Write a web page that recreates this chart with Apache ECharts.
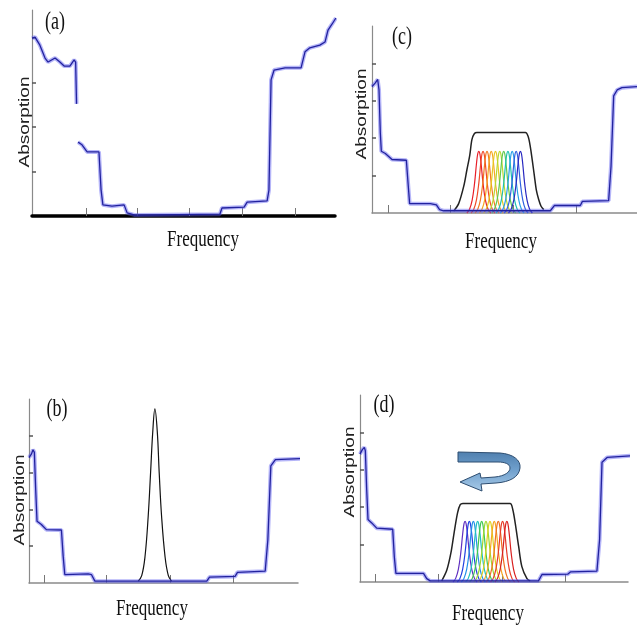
<!DOCTYPE html>
<html><head><meta charset="utf-8">
<script src="https://cdn.jsdelivr.net/npm/echarts@6/dist/echarts.min.js"></script>
<style>html,body{margin:0;padding:0;background:#fff}#c{width:637px;height:628px}</style>
</head><body><div id="c"></div>
<script>
// ---- data (frequency 0-100 across each panel axis, absorption in tick units) ----
const spectrumA = [[0,4.0],[1.0,4.02],[2.6,3.84],[4.3,3.55],[5.3,3.46],[7.6,3.55],[9.2,3.46],[10.6,3.37],[12.5,3.37],[13.9,3.51],[14.4,3.46],[14.7,2.52],null,
  [15.2,1.66],[16.5,1.60],[18.2,1.44],[22.1,1.44],[22.8,0.58],[23.4,0.25],[26.4,0.22],[30.4,0.25],[31.4,0.07],[34.0,0.02],[62.0,0.04],[62.7,0.18],
  [70.0,0.2],[71.0,0.31],[77.6,0.34],[78.2,0.58],[78.9,3.06],[79.9,3.28],[83.5,3.33],[88.8,3.33],[90.1,3.69],[91.7,3.78],[95.0,3.84],[96.7,3.91],
  [97.7,4.18],[99.0,4.31],[100.3,4.45]];
const spectrumB = [[0,3.41],[0.87,3.5],[1.49,3.62],[1.99,3.55],[2.48,2.55],[2.98,1.68],[4.6,1.59],[6.46,1.45],[12.05,1.44],[12.7,0.73],[13.3,0.23],
  [22.0,0.25],[23.2,0.23],[24.5,0.05],[66.1,0.05],[67.1,0.16],[76.6,0.18],[77.5,0.29],[87.8,0.32],[88.8,1.18],[89.9,3.18],[91.6,3.35],[101.5,3.38]];
const spectrumC = [[0,3.38],[1.26,3.48],[2.14,3.57],[2.64,3.30],[3.14,2.14],[3.52,1.65],[5.03,1.59],[7.55,1.43],[12.96,1.41],[13.7,0.71],[14.2,0.25],
  [22.0,0.25],[24.3,0.22],[25.5,0.09],[27.0,0.06],[67.3,0.06],[68.8,0.2],[78.6,0.2],[79.4,0.31],[89.3,0.33],[90.2,1.25],[91.2,3.13],[92.5,3.29],[94.3,3.35],[100,3.38]];
const spectrumD = [[0,3.42],[0.87,3.54],[1.62,3.6],[1.99,3.51],[2.49,2.48],[2.99,1.67],[4.36,1.58],[6.23,1.44],[12.2,1.41],[12.8,0.68],[13.4,0.23],
  [23.7,0.23],[24.9,0.09],[26.2,0.03],[66.6,0.03],[67.9,0.2],[77.5,0.21],[78.5,0.27],[88.4,0.29],[89.4,1.13],[90.3,3.2],[92.2,3.33],[102.1,3.38]];
const laserB = [[40.6,0.05],[41.9,0.2],[43.1,0.7],[44.3,1.8],[45.2,3.0],[46.0,4.1],[46.8,4.73],[47.7,4.1],[48.4,3.0],[49.3,1.8],[50.6,0.7],[51.8,0.2],[53.0,0.05]];
const envelopeC = [[30.8,0.05],[32.7,0.25],[34.6,0.71],[35.8,1.15],[36.9,1.55],[37.7,1.96],[38.6,2.12],[39.6,2.15],[57.9,2.15],[58.9,2.05],[59.7,1.79],
  [60.5,1.4],[61.3,0.98],[62.0,0.62],[62.9,0.36],[63.8,0.18],[64.8,0.09]];
const envelopeD = [[30.5,0.03],[32.4,0.32],[33.9,0.77],[35.1,1.31],[36.4,1.85],[37.4,2.07],[38.4,2.1],[56.0,2.1],[57.0,1.94],[57.9,1.58],[59.2,0.95],
  [60.4,0.41],[62.3,0.09],[63.5,0.03]];
const peakOffsets = [-4.5,-3.5,-2.5,-1.6,-0.9,-0.4,0,0.4,0.9,1.6,2.5,3.5,4.5];
const peakShape   = [0,0.06,0.21,0.48,0.79,0.96,1,0.96,0.79,0.48,0.21,0.06,0];
const peakCentersC = [40.3,41.9,43.4,45.0,46.6,48.2,49.7,51.3,52.9,54.4,56.0];
const peakCentersD = [39.2,40.8,42.3,43.9,45.4,47.0,48.5,50.1,51.6,53.2,54.8];
const peakHeightC = 1.65, peakHeightD = 1.62;
const peakColorsC = ['#e8202a','#f04a28','#f27a22','#f5a623','#e8c820','#b8d830','#60c850','#20c0b0','#2aa0e8','#3060e0','#2828c0'];
const peakColorsD = ['#6030c0','#2040e0','#2090e8','#20c0c0','#40c850','#a0d830','#e0d020','#f5a623','#f07020','#e83a28','#d82020'];
const xTicksA = [17.8,34.7,51.8,69.3,86.8];
const xTicksB = [5.6,28.8,52.4,76.0];
const xTicksC = [6.0,29.4,53.2,77.0];
const xTicksD = [5.6,29.3,52.9,76.6];
const yTicks = [1,2,3,4];
const panelLabels = ['(a)','(b)','(c)','(d)'];
const xName = 'Frequency', yName = 'Absorption';

// ---- layout ----
const grids = [
  {left:32, top:10, width:303, height:206},   // a
  {left:29, top:399, width:269, height:184},  // b
  {left:372, top:26, width:265, height:187},  // c
  {left:360, top:395, width:268, height:187}  // d
];
const yMax = [4.63,5,5,5];
const xTicks = [xTicksA,xTicksB,xTicksC,xTicksD];

const xAxes = grids.map((g,i)=>({
  type:'value', gridIndex:i, min:0, max:100,
  axisLine:{show:true,onZero:false,lineStyle:{color:i===0?'#000':'#8a8a8a',width:i===0?3.5:1.5}},
  axisTick:{show:true,inside:true,length:8,customValues:xTicks[i],lineStyle:{color:'#777',width:1}},
  axisLabel:{show:false}, splitLine:{show:false}
}));
const yAxes = grids.map((g,i)=>({
  type:'value', gridIndex:i, min:0, max:yMax[i],
  axisLine:{show:true,onZero:false,lineStyle:{color:'#8a8a8a',width:1.2}},
  axisTick:{show:true,inside:true,length:4,customValues:yTicks,lineStyle:{color:'#555',width:1.5}},
  axisLabel:{show:false}, splitLine:{show:false}
}));

const series = [];
function line(data, gi, color, width, smooth, z){
  series.push({type:'line', xAxisIndex:gi, yAxisIndex:gi, data:data, symbol:'none', showSymbol:false,
    smooth:smooth||false, clip:false, connectNulls:false, animation:false, silent:true, z:z||2,
    lineStyle:{color:color, width:width}});
}
function peaks(centers, height, colors, gi){
  centers.forEach((c,k)=>{
    line(peakOffsets.map((d,j)=>[c+d, height*peakShape[j]]), gi, colors[k], 1.2, 0.4, 3);
  });
}
function spectrum(data, gi){
  line(data, gi, 'rgba(90,90,240,0.45)', 4, false, 4);
  line(data, gi, '#22229e', 1.3, false, 5);
}
// (a)
spectrum(spectrumA, 0);
// (b)
line(laserB, 1, '#111', 1.2, 0.4, 3);
spectrum(spectrumB, 1);
// (c)
peaks(peakCentersC, peakHeightC, peakColorsC, 2);
line(envelopeC, 2, '#222', 1.5, 0.3, 3);
spectrum(spectrumC, 2);
// (d)
peaks(peakCentersD, peakHeightD, peakColorsD, 3);
line(envelopeD, 3, '#222', 1.5, 0.3, 3);
spectrum(spectrumD, 3);

// rotation arrow annotation in (d), drawn as a custom path
const arrowPath = 'M458,452 L500,453 C513,454 521,460 520,468 C519,477 510,482 496,483 L481,484 L482,491 L460,482 L480,473 L481,478 L495,477 C505,476 510,472 510,468 C510,464 505,462 498,462 L458,462 Z';
series.push({type:'custom', coordinateSystem:'none', data:[0], silent:true, z:10, animation:false,
  renderItem:function(){
    return {type:'path', shape:{pathData:arrowPath},
      style:{fill:new echarts.graphic.LinearGradient(0,0,0,1,[{offset:0,color:'#4f7fae'},{offset:0.45,color:'#6f9fcc'},{offset:1,color:'#a9cbe8'}]),
        stroke:'#2d4d70', lineWidth:1}};
  }});

// ---- text ----
const labelPos = [[55,23],[57,410],[402,38],[384,406]];
const xNamePos = [[203,240],[152,609],[501,242],[488,614]];
const yNamePos = [[25,122],[20,500],[362,114],[350,472]];
const graphics = [];
labelPos.forEach((p,i)=>graphics.push({type:'text', x:p[0], y:p[1], scaleY:1.35, silent:true,
  style:{text:panelLabels[i], font:'18px "Liberation Serif", serif', fill:'#111', align:'center', verticalAlign:'middle', textAlign:'center', textVerticalAlign:'middle'}}));
xNamePos.forEach(p=>graphics.push({type:'text', x:p[0], y:p[1], scaleY:1.35, silent:true,
  style:{text:xName, font:'17px "Liberation Serif", serif', fill:'#111', align:'center', verticalAlign:'middle', textAlign:'center', textVerticalAlign:'middle'}}));
yNamePos.forEach(p=>graphics.push({type:'text', x:p[0], y:p[1], rotation:Math.PI/2, scaleX:1.27, silent:true,
  style:{text:yName, font:'15px "Liberation Sans", Arial, sans-serif', fill:'#222', align:'center', verticalAlign:'middle', textAlign:'center', textVerticalAlign:'middle'}}));

const chart = echarts.init(document.getElementById('c'), null, {renderer:'canvas'});
chart.setOption({backgroundColor:'#fff', animation:false, grid:grids, xAxis:xAxes, yAxis:yAxes, series:series, graphic:graphics});
</script></body></html>
